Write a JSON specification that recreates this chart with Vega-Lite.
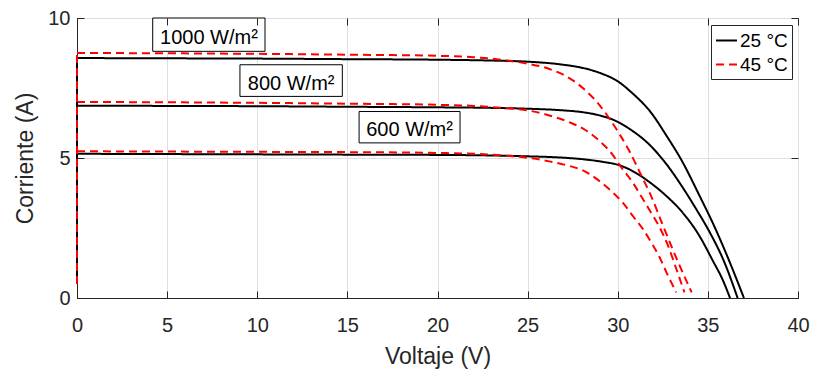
{
  "$schema": "https://vega.github.io/schema/vega-lite/v6.json",
  "width": 721,
  "height": 280,
  "autosize": {"type": "none"},
  "padding": {"left": 77, "top": 18, "right": 18, "bottom": 76},
  "config": {
    "view": {"stroke": "#262626", "strokeWidth": 1},
    "font": "Liberation Sans",
    "axis": {
      "labelFont": "Liberation Sans", "labelFontSize": 20, "labelColor": "#262626", "labelFlush": false,
      "titleFont": "Liberation Sans", "titleFontSize": 23, "titleFontWeight": "normal", "titleColor": "#262626",
      "domainColor": "#262626", "tickColor": "#262626", "gridColor": "#dfdfdf",
      "tickSize": -7, "labelPadding": 14
    }
  },
  "datasets": {
    "curves": [
      {"T":"25 °C","G":1000,"V":0,"I":0.5},{"T":"25 °C","G":1000,"V":0,"I":8.57},{"T":"25 °C","G":1000,"V":5,"I":8.56},{"T":"25 °C","G":1000,"V":10,"I":8.55},{"T":"25 °C","G":1000,"V":15,"I":8.53},{"T":"25 °C","G":1000,"V":20,"I":8.51},{"T":"25 °C","G":1000,"V":23,"I":8.48},{"T":"25 °C","G":1000,"V":25,"I":8.44},{"T":"25 °C","G":1000,"V":27,"I":8.33},{"T":"25 °C","G":1000,"V":28.1,"I":8.21},{"T":"25 °C","G":1000,"V":29,"I":8.04},{"T":"25 °C","G":1000,"V":30,"I":7.74},{"T":"25 °C","G":1000,"V":30.8,"I":7.32},{"T":"25 °C","G":1000,"V":31.8,"I":6.66},{"T":"25 °C","G":1000,"V":32.7,"I":5.8},{"T":"25 °C","G":1000,"V":33.6,"I":4.85},{"T":"25 °C","G":1000,"V":34.5,"I":3.7},{"T":"25 °C","G":1000,"V":35.4,"I":2.5},{"T":"25 °C","G":1000,"V":36.2,"I":1.3},{"T":"25 °C","G":1000,"V":37.0,"I":0},
      {"T":"25 °C","G":800,"V":0,"I":0.5},{"T":"25 °C","G":800,"V":0,"I":6.87},{"T":"25 °C","G":800,"V":5,"I":6.86},{"T":"25 °C","G":800,"V":10,"I":6.85},{"T":"25 °C","G":800,"V":15,"I":6.83},{"T":"25 °C","G":800,"V":20,"I":6.81},{"T":"25 °C","G":800,"V":23,"I":6.79},{"T":"25 °C","G":800,"V":25,"I":6.76},{"T":"25 °C","G":800,"V":27,"I":6.7},{"T":"25 °C","G":800,"V":28,"I":6.64},{"T":"25 °C","G":800,"V":29,"I":6.52},{"T":"25 °C","G":800,"V":29.8,"I":6.35},{"T":"25 °C","G":800,"V":30.7,"I":6.02},{"T":"25 °C","G":800,"V":31.8,"I":5.45},{"T":"25 °C","G":800,"V":32.7,"I":4.78},{"T":"25 °C","G":800,"V":33.6,"I":3.95},{"T":"25 °C","G":800,"V":34.3,"I":3.23},{"T":"25 °C","G":800,"V":35.1,"I":2.35},{"T":"25 °C","G":800,"V":35.9,"I":1.3},{"T":"25 °C","G":800,"V":36.65,"I":0},
      {"T":"25 °C","G":600,"V":0,"I":0.5},{"T":"25 °C","G":600,"V":0,"I":5.15},{"T":"25 °C","G":600,"V":5,"I":5.14},{"T":"25 °C","G":600,"V":10,"I":5.13},{"T":"25 °C","G":600,"V":15,"I":5.12},{"T":"25 °C","G":600,"V":20,"I":5.11},{"T":"25 °C","G":600,"V":23,"I":5.09},{"T":"25 °C","G":600,"V":25,"I":5.06},{"T":"25 °C","G":600,"V":27,"I":5.01},{"T":"25 °C","G":600,"V":28.3,"I":4.94},{"T":"25 °C","G":600,"V":29.2,"I":4.86},{"T":"25 °C","G":600,"V":30.1,"I":4.74},{"T":"25 °C","G":600,"V":31,"I":4.47},{"T":"25 °C","G":600,"V":31.8,"I":4.12},{"T":"25 °C","G":600,"V":32.6,"I":3.7},{"T":"25 °C","G":600,"V":33.6,"I":3.05},{"T":"25 °C","G":600,"V":34.5,"I":2.25},{"T":"25 °C","G":600,"V":35.3,"I":1.3},{"T":"25 °C","G":600,"V":35.8,"I":0.68},{"T":"25 °C","G":600,"V":36.23,"I":0},
      {"T":"45 °C","G":1000,"V":0,"I":0.5},{"T":"45 °C","G":1000,"V":0,"I":8.75},{"T":"45 °C","G":1000,"V":5,"I":8.74},{"T":"45 °C","G":1000,"V":10,"I":8.72},{"T":"45 °C","G":1000,"V":15,"I":8.69},{"T":"45 °C","G":1000,"V":20,"I":8.65},{"T":"45 °C","G":1000,"V":22,"I":8.6},{"T":"45 °C","G":1000,"V":23,"I":8.55},{"T":"45 °C","G":1000,"V":24,"I":8.47},{"T":"45 °C","G":1000,"V":25,"I":8.37},{"T":"45 °C","G":1000,"V":26.2,"I":8.18},{"T":"45 °C","G":1000,"V":27.2,"I":7.9},{"T":"45 °C","G":1000,"V":28.2,"I":7.42},{"T":"45 °C","G":1000,"V":29,"I":6.88},{"T":"45 °C","G":1000,"V":29.6,"I":6.35},{"T":"45 °C","G":1000,"V":30.1,"I":5.85},{"T":"45 °C","G":1000,"V":30.6,"I":5.3},{"T":"45 °C","G":1000,"V":31.4,"I":4.25},{"T":"45 °C","G":1000,"V":31.8,"I":3.72},{"T":"45 °C","G":1000,"V":32.5,"I":2.6},{"T":"45 °C","G":1000,"V":33.3,"I":1.35},{"T":"45 °C","G":1000,"V":34.1,"I":0.2},
      {"T":"45 °C","G":800,"V":0,"I":0.5},{"T":"45 °C","G":800,"V":0,"I":7.0},{"T":"45 °C","G":800,"V":5,"I":6.99},{"T":"45 °C","G":800,"V":10,"I":6.97},{"T":"45 °C","G":800,"V":15,"I":6.94},{"T":"45 °C","G":800,"V":20,"I":6.9},{"T":"45 °C","G":800,"V":22,"I":6.86},{"T":"45 °C","G":800,"V":23,"I":6.82},{"T":"45 °C","G":800,"V":24,"I":6.77},{"T":"45 °C","G":800,"V":25,"I":6.7},{"T":"45 °C","G":800,"V":26.2,"I":6.52},{"T":"45 °C","G":800,"V":27.3,"I":6.28},{"T":"45 °C","G":800,"V":28.2,"I":6.0},{"T":"45 °C","G":800,"V":29,"I":5.6},{"T":"45 °C","G":800,"V":29.7,"I":5.13},{"T":"45 °C","G":800,"V":30.2,"I":4.66},{"T":"45 °C","G":800,"V":30.86,"I":4.1},{"T":"45 °C","G":800,"V":31.3,"I":3.63},{"T":"45 °C","G":800,"V":31.8,"I":3.1},{"T":"45 °C","G":800,"V":32.3,"I":2.55},{"T":"45 °C","G":800,"V":32.8,"I":1.85},{"T":"45 °C","G":800,"V":33.27,"I":1.0},{"T":"45 °C","G":800,"V":33.7,"I":0.2},
      {"T":"45 °C","G":600,"V":0,"I":0.5},{"T":"45 °C","G":600,"V":0,"I":5.24},{"T":"45 °C","G":600,"V":5,"I":5.23},{"T":"45 °C","G":600,"V":10,"I":5.22},{"T":"45 °C","G":600,"V":15,"I":5.21},{"T":"45 °C","G":600,"V":20,"I":5.18},{"T":"45 °C","G":600,"V":22,"I":5.15},{"T":"45 °C","G":600,"V":23,"I":5.12},{"T":"45 °C","G":600,"V":24,"I":5.07},{"T":"45 °C","G":600,"V":25.1,"I":5.0},{"T":"45 °C","G":600,"V":26.2,"I":4.88},{"T":"45 °C","G":600,"V":27.4,"I":4.7},{"T":"45 °C","G":600,"V":28,"I":4.58},{"T":"45 °C","G":600,"V":28.9,"I":4.22},{"T":"45 °C","G":600,"V":29.66,"I":3.81},{"T":"45 °C","G":600,"V":30.3,"I":3.39},{"T":"45 °C","G":600,"V":30.86,"I":2.91},{"T":"45 °C","G":600,"V":31.42,"I":2.44},{"T":"45 °C","G":600,"V":31.88,"I":1.96},{"T":"45 °C","G":600,"V":32.34,"I":1.43},{"T":"45 °C","G":600,"V":32.72,"I":0.89},{"T":"45 °C","G":600,"V":33.25,"I":0.2}
    ],
    "labels": [
      {"label":"1000 W/m²","V1":4.2,"V2":10.43,"I1":10.0,"I2":8.81,"Vt":7.32,"It":9.3},
      {"label":"800 W/m²","V1":9.04,"V2":14.72,"I1":8.33,"I2":7.2,"Vt":11.88,"It":7.66},
      {"label":"600 W/m²","V1":15.65,"V2":21.25,"I1":6.66,"I2":5.54,"Vt":18.45,"It":6.0}
    ]
  },
  "resolve": {"axis": {"x": "independent", "y": "independent"}},
  "layer": [
    {
      "data": {"name": "curves"},
      "transform": [{"filter": "!(datum.V == 0 && datum.I < 1)"}],
      "mark": {"type": "line", "strokeWidth": 2, "clip": false, "interpolate": "monotone"},
      "encoding": {
        "x": {"field": "V", "type": "quantitative", "scale": {"domain": [0, 40], "nice": false},
              "axis": {"title": "Voltaje (V)", "values": [0,5,10,15,20,25,30,35,40], "grid": true, "labelPadding": 24, "titlePadding": 10}},
        "y": {"field": "I", "type": "quantitative", "scale": {"domain": [0, 10], "nice": false},
              "axis": {"title": "Corriente (A)", "values": [0,5,10], "grid": true, "titlePadding": 10}},
        "color": {"field": "T", "type": "nominal", "scale": {"domain": ["25 °C","45 °C"], "range": ["#000000","#ff0000"]},
                  "legend": {"title": null, "orient": "none", "legendX": 634, "legendY": 7, "strokeColor": "#262626", "fillColor": "white",
                             "padding": 4, "labelFont": "Liberation Sans", "labelFontSize": 19, "labelColor": "#000000",
                             "symbolType": "stroke", "symbolSize": 440, "symbolStrokeWidth": 2, "rowPadding": 2, "labelOffset": 2}},
        "strokeDash": {"field": "T", "type": "nominal", "scale": {"domain": ["25 °C","45 °C"], "range": [[1,0],[8,5]]},
                       "legend": {"title": null, "orient": "none", "legendX": 634, "legendY": 7}},
        "detail": {"field": "G", "type": "nominal"}
      }
    },
    {
      "data": {"name": "curves"},
      "transform": [{"filter": "datum.V == 0"}],
      "mark": {"type": "line", "strokeWidth": 2, "clip": false},
      "encoding": {
        "x": {"field": "V", "type": "quantitative", "axis": null},
        "y": {"field": "I", "type": "quantitative", "axis": null},
        "color": {"field": "T", "type": "nominal"},
        "strokeDash": {"field": "T", "type": "nominal"},
        "detail": {"field": "G", "type": "nominal"},
        "order": {"field": "I", "type": "quantitative"}
      }
    },
    {
      "data": {"name": "labels"},
      "mark": {"type": "rect", "fill": "white", "stroke": "#000000", "strokeWidth": 1},
      "encoding": {
        "x": {"field": "V1", "type": "quantitative", "axis": null},
        "x2": {"field": "V2"},
        "y": {"field": "I1", "type": "quantitative", "axis": null},
        "y2": {"field": "I2"}
      }
    },
    {
      "data": {"name": "labels"},
      "mark": {"type": "text", "font": "Liberation Sans", "fontSize": 20, "color": "#000000", "align": "center", "baseline": "middle"},
      "encoding": {
        "x": {"field": "Vt", "type": "quantitative", "axis": null},
        "y": {"field": "It", "type": "quantitative", "axis": null},
        "text": {"field": "label"}
      }
    },
    {
      "data": {"name": "labels"},
      "mark": {"type": "point", "opacity": 0},
      "encoding": {
        "x": {"field": "Vt", "type": "quantitative",
              "axis": {"orient": "top", "labels": false, "title": null, "grid": false, "domain": false, "values": [0,5,10,15,20,25,30,35,40], "zindex": 1}},
        "y": {"field": "It", "type": "quantitative",
              "axis": {"orient": "right", "labels": false, "title": null, "grid": false, "domain": false, "values": [0,5,10], "zindex": 1}}
      }
    }
  ]
}
